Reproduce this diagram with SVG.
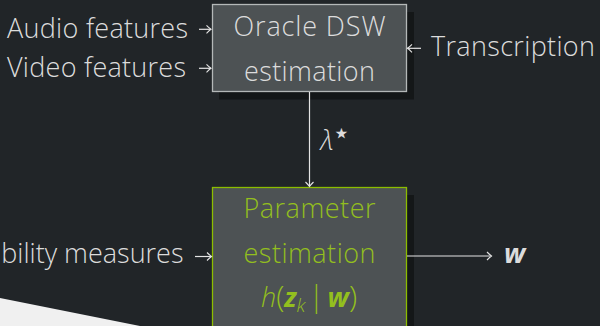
<svg xmlns="http://www.w3.org/2000/svg" width="600" height="326" viewBox="0 0 600 326">
<defs>
<style>
.t{font-family:"Open Sans","Liberation Sans",sans-serif;font-weight:300;font-size:27px;fill:#dcdcdc}
.g{fill:#93bf1e}
.b{font-weight:700;font-style:italic}
.box{fill:#4d5254;stroke-width:1.3}
.shadow{fill:#141718}
.ln{stroke:#e4e4e4;stroke-width:1.2;fill:none}
</style>
<marker id="ah" markerUnits="userSpaceOnUse" markerWidth="12" markerHeight="12" viewBox="-6 -6 12 12" refX="0" refY="0" orient="auto">
<path d="M-4.5,-4 Q-1.5,-1 0,0 Q-1.5,1 -4.5,4" fill="none" stroke="#e4e4e4" stroke-width="1.1"/>
</marker>
</defs>
<rect width="600" height="326" fill="#212528"/>
<polygon points="0,298 140,326 0,326" fill="#f0f0f0"/>

<g id="oracle">
<rect class="shadow" x="219" y="12" width="195" height="87.5"/>
<rect class="box" x="212.5" y="4.5" width="194" height="87" stroke="#b4b8b8"/>
<text class="t" x="309.5" y="35.7" text-anchor="middle" textLength="152">Oracle DSW</text>
<text class="t" x="309.5" y="81" text-anchor="middle" textLength="131">estimation</text>
</g>

<g id="param">
<rect class="shadow" x="219" y="195" width="195" height="140"/>
<rect class="box" x="212.5" y="187.5" width="194" height="140" stroke="#8cbd00"/>
<text class="t g" x="309.5" y="218.3" text-anchor="middle" textLength="132">Parameter</text>
<text class="t g" x="309.5" y="263.3" text-anchor="middle" textLength="132">estimation</text>
<text class="t g" x="309" y="306.5" text-anchor="middle"><tspan font-style="italic">h</tspan><tspan font-size="30">(</tspan><tspan class="b">z</tspan><tspan font-style="italic" font-size="19" dy="5">k</tspan><tspan dy="-5" dx="3" font-size="30">|</tspan><tspan dx="3" class="b">w</tspan><tspan font-size="30">)</tspan></text>
</g>

<g id="audio"><text class="t" x="7" y="37.7" textLength="181">Audio features</text></g>
<g id="video"><text class="t" x="7" y="77" textLength="179">Video features</text></g>
<g id="reliability"><text class="t" x="183.5" y="263.3" text-anchor="end">Reliability measures</text></g>
<g id="transcription"><text class="t" x="431" y="55.5" textLength="164">Transcription</text></g>
<g id="lambda"><text class="t" x="320.5" y="150" font-style="italic">λ<tspan font-family="DejaVu Sans" font-style="normal" font-size="30" dx="-1" dy="-7">⋆</tspan></text></g>
<g id="wout"><text class="t b" x="504" y="263.3">w</text></g>

<g id="connectors">
<line class="ln" x1="199" y1="29.3" x2="211" y2="29.3" marker-end="url(#ah)"/>
<line class="ln" x1="199" y1="68.3" x2="211" y2="68.3" marker-end="url(#ah)"/>
<line class="ln" x1="421" y1="48.3" x2="407.5" y2="48.3" marker-end="url(#ah)"/>
<line class="ln" x1="309.5" y1="92" x2="309.5" y2="186.5" marker-end="url(#ah)"/>
<line class="ln" x1="195" y1="256.5" x2="211.5" y2="256.5" marker-end="url(#ah)"/>
<line class="ln" x1="407" y1="256" x2="491.5" y2="256" marker-end="url(#ah)"/>
</g>
</svg>
